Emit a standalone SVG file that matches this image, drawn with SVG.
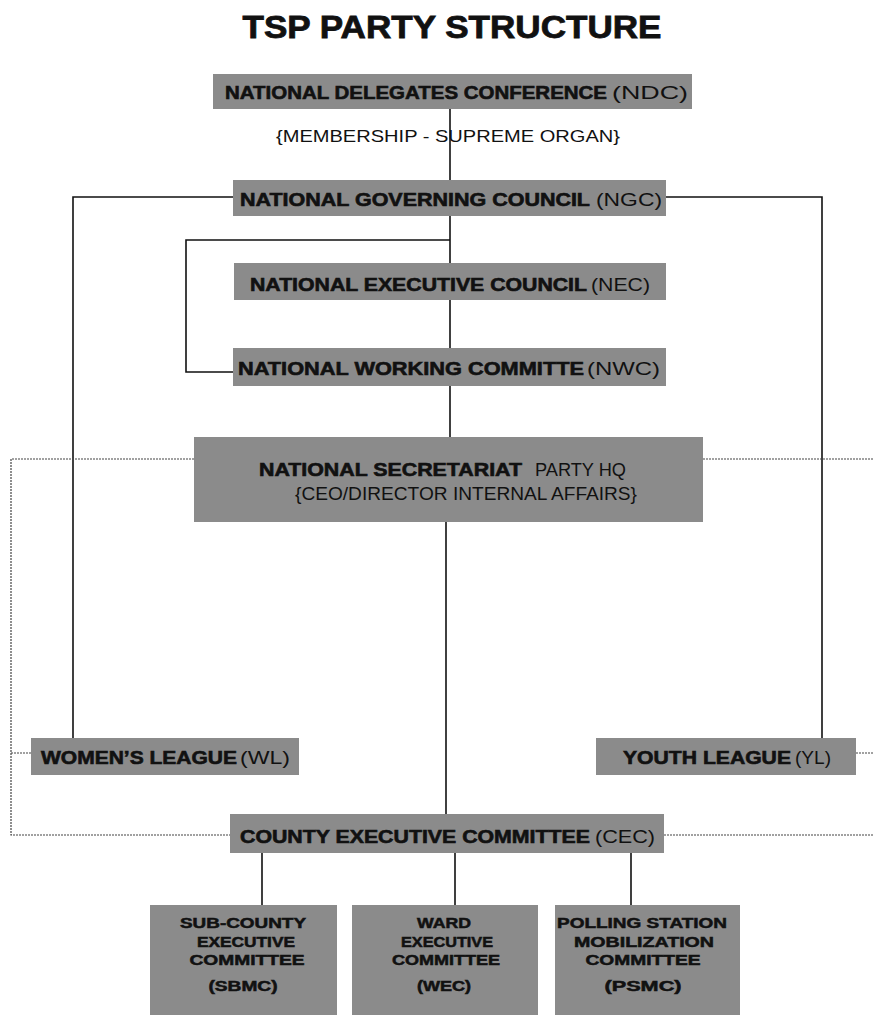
<svg xmlns="http://www.w3.org/2000/svg" width="873" height="1015" viewBox="0 0 873 1015">
<style>
.box{fill:#8b8b8b}
.b{font-family:"Liberation Sans",Arial,sans-serif;font-weight:bold;font-size:18px;fill:#111;stroke:#111;stroke-width:0.6}
.r{font-family:"Liberation Sans",Arial,sans-serif;font-size:18px;fill:#111}
.s{font-family:"Liberation Sans",Arial,sans-serif;font-weight:bold;font-size:14px;fill:#111;stroke:#111;stroke-width:0.5;text-anchor:middle}
.ln{stroke:#111;stroke-width:1.6;fill:none}
.dt{stroke:#444;stroke-width:1.2;fill:none;stroke-dasharray:2 1}
</style>
<rect width="873" height="1015" fill="#fff"/>
<text x="452" y="38" text-anchor="middle" font-family="Liberation Sans,Arial,sans-serif" font-weight="bold" font-size="32" fill="#111" stroke="#111" stroke-width="0.8" textLength="419" lengthAdjust="spacingAndGlyphs">TSP PARTY STRUCTURE</text>
<g id="connectors">
<path class="ln" d="M450 108V180"/>
<path class="ln" d="M233 197H73V738"/>
<path class="ln" d="M665 197H822V738"/>
<path class="ln" d="M450 215V437"/>
<path class="ln" d="M450 240H186V372H233"/>
<path class="ln" d="M446 522V814"/>
<path class="ln" d="M262 853V905M455 853V905M631 853V905"/>
<path class="dt" d="M194 459H11V835H230M11 753H31"/>
<path class="dt" d="M703 459H873M856 753H873M664 835H873"/>
</g>
<g id="ndc">
<rect class="box" x="213" y="74" width="479" height="35"/>
<text class="b" x="225" y="99" textLength="382" lengthAdjust="spacingAndGlyphs">NATIONAL DELEGATES CONFERENCE</text>
<text class="r" x="612" y="99" textLength="76" lengthAdjust="spacingAndGlyphs">(NDC)</text>
</g>
<g id="membership">
<text x="448" y="142" text-anchor="middle" font-family="Liberation Sans,Arial,sans-serif" font-size="17" fill="#111" textLength="344" lengthAdjust="spacingAndGlyphs">{MEMBERSHIP - SUPREME ORGAN}</text>
</g>
<g id="ngc">
<rect class="box" x="233" y="180" width="433" height="36"/>
<text class="b" x="240" y="206" textLength="350" lengthAdjust="spacingAndGlyphs">NATIONAL GOVERNING COUNCIL</text>
<text class="r" x="596" y="206" textLength="66" lengthAdjust="spacingAndGlyphs">(NGC)</text>
</g>
<g id="nec">
<rect class="box" x="234" y="263" width="432" height="37"/>
<text class="b" x="250" y="291" textLength="337" lengthAdjust="spacingAndGlyphs">NATIONAL EXECUTIVE COUNCIL</text>
<text class="r" x="591" y="291" textLength="59" lengthAdjust="spacingAndGlyphs">(NEC)</text>
</g>
<g id="nwc">
<rect class="box" x="233" y="348" width="433" height="38"/>
<text class="b" x="238" y="375" textLength="346" lengthAdjust="spacingAndGlyphs">NATIONAL WORKING COMMITTE</text>
<text class="r" x="587" y="375" textLength="73" lengthAdjust="spacingAndGlyphs">(NWC)</text>
</g>
<g id="ns">
<rect class="box" x="194" y="437" width="509" height="85"/>
<text class="b" x="259" y="476" textLength="263" lengthAdjust="spacingAndGlyphs">NATIONAL SECRETARIAT</text>
<text class="r" x="535" y="476" textLength="91" lengthAdjust="spacingAndGlyphs">PARTY HQ</text>
<text class="r" x="295" y="500" textLength="342" lengthAdjust="spacingAndGlyphs">{CEO/DIRECTOR INTERNAL AFFAIRS}</text>
</g>
<g id="wl">
<rect class="box" x="31" y="738" width="268" height="37"/>
<text class="b" x="41" y="764" textLength="196" lengthAdjust="spacingAndGlyphs">WOMEN’S LEAGUE</text>
<text class="r" x="240" y="764" textLength="50" lengthAdjust="spacingAndGlyphs">(WL)</text>
</g>
<g id="yl">
<rect class="box" x="596" y="738" width="260" height="37"/>
<text class="b" x="623" y="764" textLength="168" lengthAdjust="spacingAndGlyphs">YOUTH LEAGUE</text>
<text class="r" x="795" y="764" textLength="36" lengthAdjust="spacingAndGlyphs">(YL)</text>
</g>
<g id="cec">
<rect class="box" x="230" y="814" width="434" height="39"/>
<text class="b" x="240" y="843" textLength="350" lengthAdjust="spacingAndGlyphs">COUNTY EXECUTIVE COMMITTEE</text>
<text class="r" x="595" y="843" textLength="60" lengthAdjust="spacingAndGlyphs">(CEC)</text>
</g>
<g id="sbmc">
<rect class="box" x="150" y="905" width="187" height="115"/>
<text class="s" x="243" y="928" textLength="126" lengthAdjust="spacingAndGlyphs">SUB-COUNTY</text>
<text class="s" x="246" y="947" textLength="98" lengthAdjust="spacingAndGlyphs">EXECUTIVE</text>
<text class="s" x="247" y="965" textLength="115" lengthAdjust="spacingAndGlyphs">COMMITTEE</text>
<text class="s" x="243" y="991" textLength="69" lengthAdjust="spacingAndGlyphs" stroke-width="0.2">(SBMC)</text>
</g>
<g id="wec">
<rect class="box" x="352" y="905" width="186" height="115"/>
<text class="s" x="444" y="928" textLength="54" lengthAdjust="spacingAndGlyphs">WARD</text>
<text class="s" x="447" y="947" textLength="92" lengthAdjust="spacingAndGlyphs">EXECUTIVE</text>
<text class="s" x="446" y="965" textLength="108" lengthAdjust="spacingAndGlyphs">COMMITTEE</text>
<text class="s" x="444" y="991" textLength="54" lengthAdjust="spacingAndGlyphs" stroke-width="0.2">(WEC)</text>
</g>
<g id="psmc">
<rect class="box" x="555" y="905" width="185" height="115"/>
<text class="s" x="642" y="928" textLength="170" lengthAdjust="spacingAndGlyphs">POLLING STATION</text>
<text class="s" x="644" y="947" textLength="140" lengthAdjust="spacingAndGlyphs">MOBILIZATION</text>
<text class="s" x="643" y="965" textLength="115" lengthAdjust="spacingAndGlyphs">COMMITTEE</text>
<text class="s" x="643" y="991" textLength="77" lengthAdjust="spacingAndGlyphs" stroke-width="0.2">(PSMC)</text>
</g>
</svg>
